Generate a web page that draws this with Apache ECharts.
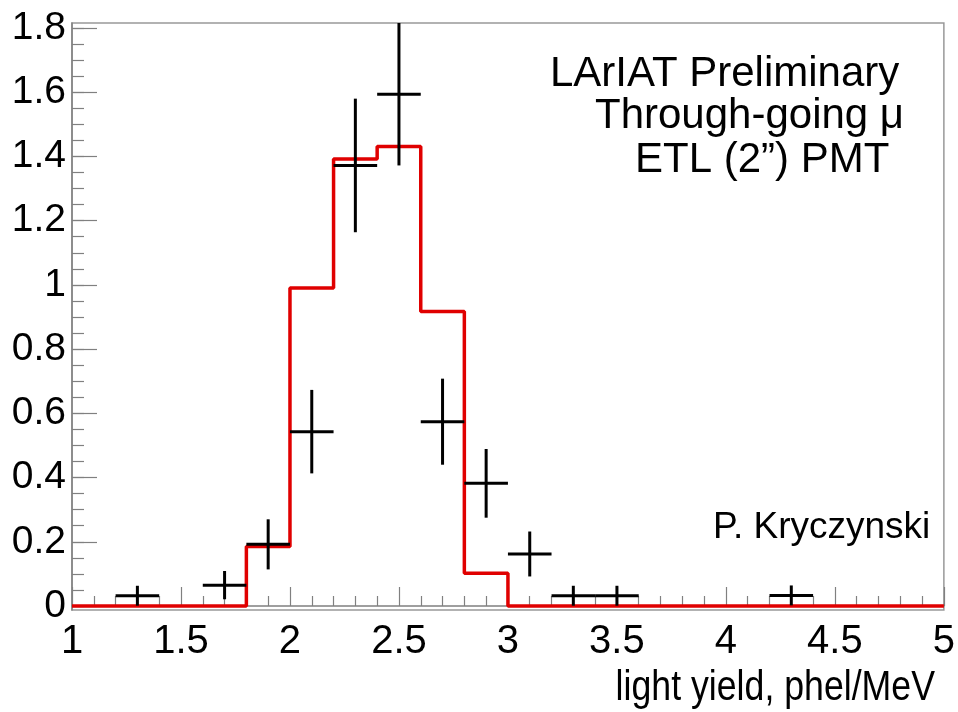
<!DOCTYPE html>
<html>
<head>
<meta charset="utf-8">
<script src="https://cdn.jsdelivr.net/npm/echarts@6/dist/echarts.min.js"></script>
<style>
html,body{margin:0;padding:0;background:#fff;}
#chart{width:958px;height:712px;}
</style>
</head>
<body>
<div id="chart"></div>
<script>
// Histogram (red step line): bin edges and bin contents
const binEdges = [1.0,1.2,1.4,1.6,1.8,2.0,2.2,2.4,2.6,2.8,3.0,3.2,3.4,3.6,3.8,4.0,4.2,4.4,4.6,4.8,5.0];
const binValues = [0,0,0,0,0.185,0.99,1.392,1.431,0.917,0.102,0,0,0,0,0,0,0,0,0,0];

// Data points with error bars
const pointX = [1.3,1.7,1.9,2.1,2.3,2.5,2.7,2.9,3.1,3.3,3.5,4.3];
const pointY = [0.032,0.065,0.192,0.543,1.372,1.594,0.574,0.382,0.162,0.032,0.032,0.033];
const pointErr = [0.031,0.044,0.078,0.13,0.208,0.222,0.134,0.107,0.07,0.031,0.031,0.031];
const binHalfWidth = 0.1;

// Tick values
const yMajorTicks = [0,0.2,0.4,0.6,0.8,1.0,1.2,1.4,1.6,1.8];
const yMinorTicks = [];
for (let i = 0; i <= 36; i++) yMinorTicks.push(+(i*0.05).toFixed(2));

const textFont = "'Liberation Sans',Arial,Helvetica,sans-serif";

const stepData = binEdges.map((e, i) => [e, binValues[Math.min(i, binValues.length - 1)]]);
const pointData = pointX.map((x, i) => [x, pointY[i], pointErr[i]]);

const axisGray = '#808080';
const yMin = -0.01246, yMax = 1.8156;

const chart = echarts.init(document.getElementById('chart'));
chart.setOption({
  animation: false,
  backgroundColor: '#fff',
  grid: {left: 72, right: 14, top: 23, bottom: 102, show: true, borderColor: '#999', borderWidth: 1.5, backgroundColor: '#fff'},
  xAxis: {
    type: 'value', min: 1, max: 5, interval: 0.5,
    axisLine: {show: true, lineStyle: {color: axisGray, width: 1.5}},
    axisTick: {show: true, inside: true, length: 19, lineStyle: {color: axisGray, width: 1.2}},
    minorTick: {show: true, splitNumber: 5, length: 10, lineStyle: {color: axisGray, width: 1.2}},
    splitLine: {show: false},
    axisLabel: {color: '#000', fontSize: 40, fontFamily: textFont, margin: 12,
      formatter: v => String(+v.toFixed(1))}
  },
  yAxis: [{
    type: 'value', min: yMin, max: yMax,
    axisLine: {show: true, lineStyle: {color: axisGray, width: 1.5}},
    axisTick: {show: true, inside: true, length: 25, customValues: yMajorTicks, lineStyle: {color: axisGray, width: 1.2}},
    splitLine: {show: false},
    axisLabel: {color: '#000', fontSize: 39, fontFamily: textFont, margin: 6, customValues: yMajorTicks,
      formatter: v => String(+v.toFixed(1))}
  }, {
    type: 'value', min: yMin, max: yMax, position: 'left',
    axisLine: {show: false},
    axisTick: {show: true, inside: true, length: 12, customValues: yMinorTicks, lineStyle: {color: axisGray, width: 1.2}},
    splitLine: {show: false},
    axisLabel: {show: false}
  }],
  series: [{
    type: 'line', step: 'end', data: stepData, symbol: 'none',
    lineStyle: {color: '#e00000', width: 3.5}, z: 2
  }, {
    type: 'custom', data: pointData, z: 3,
    renderItem: function (params, api) {
      const x = api.value(0), y = api.value(1), e = api.value(2);
      const l = api.coord([x - binHalfWidth, y]);
      const r = api.coord([x + binHalfWidth, y]);
      const t = api.coord([x, Math.min(y + e, yMax)]);
      const b = api.coord([x, y - e]);
      const st = {stroke: '#000', lineWidth: 3};
      return {type: 'group', children: [
        {type: 'line', shape: {x1: l[0], y1: l[1], x2: r[0], y2: r[1]}, style: st},
        {type: 'line', shape: {x1: t[0], y1: t[1], x2: b[0], y2: b[1]}, style: st}
      ]};
    }
  }],
  graphic: [
    {type: 'text', left: 550, top: 53, style: {text: 'LArIAT Preliminary', font: '42px ' + textFont, fill: '#000'}},
    {type: 'text', left: 595, top: 95, style: {text: 'Through-going μ', font: '42px ' + textFont, fill: '#000'}},
    {type: 'text', left: 635, top: 139, style: {text: 'ETL (2”) PMT', font: '42px ' + textFont, fill: '#000'}},
    {type: 'text', left: 713, top: 509, style: {text: 'P. Kryczynski', font: '37px ' + textFont, fill: '#000'}},
    {type: 'text', x: 935, y: 688, scaleX: 0.83, style: {text: 'light yield, phel/MeV', font: '43px ' + textFont, fill: '#000', align: 'right', verticalAlign: 'middle'}}
  ]
});
</script>
</body>
</html>
